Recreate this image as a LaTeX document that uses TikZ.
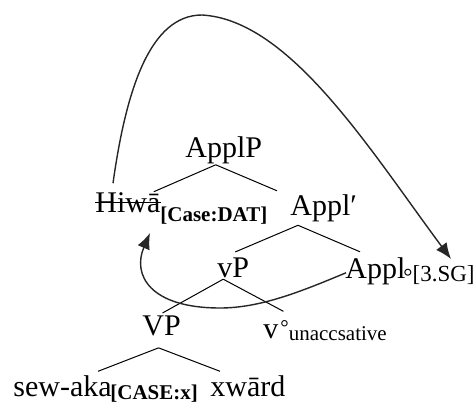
\documentclass[tikz,border=0pt]{standalone}
\usepackage{fontspec}
\setmainfont{Liberation Serif}
\usetikzlibrary{arrows.meta,calc}
\newcommand{\mainsz}{\fontsize{15}{18}\selectfont}
\newcommand{\subsz}{\fontsize{10.5}{12}\selectfont}
\newcommand{\subszb}{\fontsize{11.5}{13}\selectfont}
\begin{document}
\begin{tikzpicture}[x=0.5pt,y=-0.5pt,
  lbl/.style={inner sep=0pt, anchor=base west, font=\mainsz},
  sublbl/.style={inner sep=0pt, anchor=base west, font=\subsz},
  subbold/.style={sublbl, font=\subsz\bfseries},
  branch/.style={line width=0.5pt},
  strike/.style={line width=0.7pt},
  mvt/.style={line width=0.7pt, draw=black!85, -{Latex[length=8pt,width=6.5pt]}}]
\useasboundingbox (0,0) rectangle (473,402);
\fill[white] (0,0) rectangle (473,402);
% labels
\node[lbl] (applp) at (185,157) {ApplP};
\node[lbl] (hiwa) at (95,212) {Hiwā};
\node[subbold] (hiwasub) at (160,221) {[Case:DAT]};
\node[lbl] (applbar) at (290,215) {Appl′};
\node[lbl] (vp) at (217,277) {vP};
\node[lbl] (appl) at (345,278) {Appl};
\node[sublbl, font=\subszb] (applsub) at (403,281) {\raisebox{-1.5pt}{°}[3.SG]};
\node[lbl] (bigvp) at (142,335) {VP};
\node[lbl] (vlittle) at (263,338) {v};
\node[sublbl] (vsub) at (280,340) {\raisebox{3pt}{°}unaccsative};
\node[lbl] (sewaka) at (13,396) {sew-aka};
\node[subbold] (sewakasub) at (110,399) {[CASE:x]};
\node[lbl] (xward) at (210,396) {xwārd};
% strike-through
\draw[strike] (hiwa.west) -- (hiwa.east);
% branches
\draw[branch] ($(applp.south)+(-8,1)$) -- ($(hiwa.north east)+(-7,0)$);
\draw[branch] ($(applp.south)+(-8,1)$) -- ($(applbar.north west)+(-13,-3)$);
\draw[branch] ($(applbar.south west)+(8,3.5)$) -- ($(vp.north)+(2,-5)$);
\draw[branch] ($(applbar.south west)+(8,3.5)$) -- ($(appl.north west)+(15,-5)$);
\draw[branch] ($(vp.south)+(-10,1.5)$) -- ($(bigvp.north)+(1,-2)$);
\draw[branch] ($(vp.south)+(-10,1.5)$) -- ($(vlittle.north)+(12.5,-12.5)$);
\draw[branch] ($(bigvp.south)+(-3,12)$) -- ($(sewaka.north east)+(-14,-3.5)$);
\draw[branch] ($(bigvp.south)+(-3,12)$) -- ($(xward.north west)+(10,-3.5)$);
% movement arrows
\coordinate (tipone) at (451,259);
\coordinate (tiptwo) at (150,233);
\draw[mvt] ($(hiwa.north west)+(18,-8.5)$) .. controls (126,90) and (150,15) .. (202,15)
   .. controls (290,20) and (370,150) .. (tipone);
\draw[mvt] ($(appl.west)+(1,2)$) .. controls (300,292) and (260,308) .. (220,308)
   .. controls (150,308) and (132,275) .. (tiptwo);
\end{tikzpicture}
\end{document}
